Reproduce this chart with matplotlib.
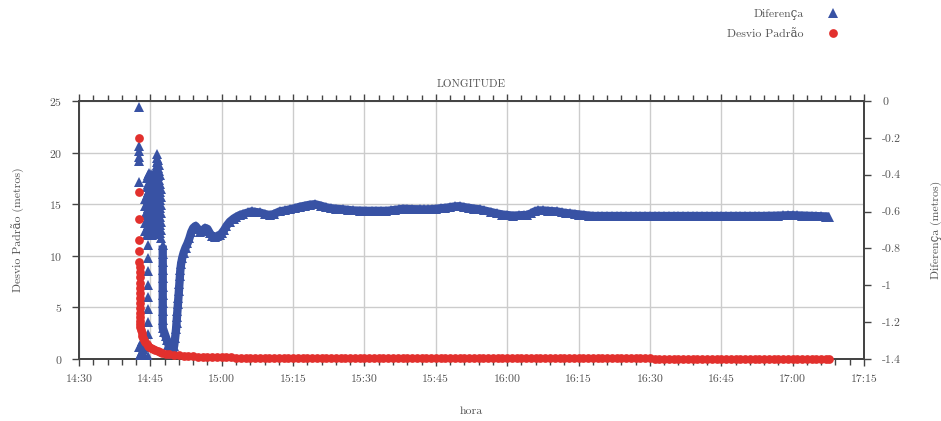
import numpy as np
import matplotlib
matplotlib.use("Agg")
import matplotlib.pyplot as plt
from matplotlib.ticker import MultipleLocator, FuncFormatter

plt.rcParams["font.family"] = ["cmr10", "DejaVu Serif"]
plt.rcParams["axes.formatter.use_mathtext"] = True
plt.rcParams["axes.unicode_minus"] = False

# ---------------------------------------------------------------------------
# Data: time in minutes after 14:00
# ---------------------------------------------------------------------------

# Diferença (metros) - initial burst of the receiver
hora_dif_inicio = [
    42.6, 42.6, 42.6, 42.6, 42.6, 42.6,
    42.7, 42.8, 42.9, 43.0, 43.1, 43.2, 43.3, 43.4, 43.5,
    43.9, 43.9, 43.9, 43.9, 43.9,
    44.2, 44.2, 44.2, 44.2, 44.2, 44.2, 44.2, 44.2,
    44.5, 44.5, 44.5, 44.5, 44.5, 44.5, 44.5, 44.5, 44.5,
    44.5, 44.5, 44.5, 44.5, 44.5, 44.5, 44.5, 44.5, 44.5,
    44.8, 44.8, 44.8, 44.8, 44.8, 44.8, 44.8, 44.8,
    45.1, 45.1, 45.1, 45.1, 45.1, 45.1, 45.1, 45.1,
    45.4, 45.4, 45.4, 45.4, 45.4, 45.4, 45.4, 45.4,
    45.7, 45.7, 45.7, 45.7, 45.7, 45.7, 45.7,
    46.0, 46.0, 46.0, 46.0, 46.0, 46.0, 46.0, 46.0, 46.0,
    46.3, 46.3, 46.3, 46.3, 46.3, 46.3, 46.3, 46.3, 46.3, 46.3,
    46.45, 46.45, 46.45,
    46.7, 46.7, 46.7, 46.7, 46.7, 46.7, 46.7, 46.7, 46.7, 46.7,
    46.9, 46.9, 46.9, 46.9, 46.9, 46.9, 46.9, 46.9, 46.9,
    47.1, 47.1, 47.1, 47.1, 47.1, 47.1, 47.1, 47.1,
    47.3, 47.3, 47.3, 47.3, 47.3, 47.3, 47.3,
]
diferenca_inicio = [
    -0.031, -0.246, -0.274, -0.302, -0.325, -0.442,
    -1.333, -1.378, -1.389, -1.366, -1.316, -1.355, -1.300, -1.372, -1.344,
    -0.706, -0.661, -0.616, -0.571, -0.532,
    -0.420, -0.465, -0.510, -0.554, -0.599, -0.644, -0.689, -0.728,
    -1.383, -1.333, -1.266, -1.198, -1.131, -1.064, -0.997, -0.924, -0.851,
    -0.784, -0.717, -0.672, -0.627, -0.582, -0.538, -0.493, -0.448, -0.403,
    -0.392, -0.437, -0.482, -0.526, -0.571, -0.616, -0.661, -0.706,
    -0.717, -0.672, -0.627, -0.582, -0.538, -0.493, -0.448, -0.398,
    -0.426, -0.470, -0.515, -0.560, -0.605, -0.650, -0.694, -0.728,
    -0.711, -0.666, -0.622, -0.577, -0.532, -0.487, -0.431,
    -0.375, -0.420, -0.465, -0.510, -0.554, -0.599, -0.644, -0.689, -0.722,
    -0.706, -0.661, -0.616, -0.571, -0.526, -0.482, -0.437, -0.392, -0.347, -0.308,
    -0.286, -0.330, -0.375,
    -0.319, -0.364, -0.409, -0.454, -0.498, -0.543, -0.588, -0.633, -0.678, -0.711,
    -0.694, -0.650, -0.605, -0.560, -0.515, -0.470, -0.426, -0.381, -0.347,
    -0.403, -0.448, -0.493, -0.538, -0.582, -0.627, -0.672, -0.717,
    -0.476, -0.521, -0.566, -0.610, -0.655, -0.700, -0.745,
]

# Diferença (metros) - converged tracking
hora_dif_rastreio = [
    47.6, 47.6, 47.6, 47.6, 47.6, 47.6, 47.6, 47.6, 47.6, 47.6, 47.6,
    47.9, 48.2, 48.5, 48.8, 49.1, 49.4, 49.6, 49.8, 50.0, 50.2,
    50.4, 50.5, 50.6, 50.7, 50.8, 50.9, 51.0, 51.1, 51.2, 51.3,
    51.45, 51.7, 52.0, 52.4, 52.8, 53.2, 53.6, 54.0, 54.5, 55.0,
    55.5, 56.0, 56.5, 57.0, 57.5, 58.0, 58.5, 59.0, 59.6, 60.0,
    60.5, 61.0, 61.7, 62.5, 63.0, 63.8, 64.5, 65.5, 66.3, 67.0,
    68.0, 69.0, 70.1, 71.0, 72.2, 73.3, 74.3, 75.3, 76.4, 77.5,
    78.5, 79.6, 80.8, 82.0, 83.0, 84.1, 85.5, 86.5, 87.6, 89.0,
    90.4, 91.5, 92.5, 93.5, 94.6, 95.5, 96.5, 97.3, 98.1, 99.0,
    100.0, 101.6, 102.5, 103.3, 104.2, 105.1, 106.0, 107.0, 108.0, 109.0,
    110.0, 111.0, 112.0, 113.0, 114.2, 115.2, 116.5, 117.8, 119.0, 120.0,
    121.2, 122.5, 123.5, 124.1, 125.0, 125.8, 126.5, 127.5, 128.5, 129.5,
    130.4, 131.5, 132.3, 133.2, 134.2, 135.2, 136.2, 137.2, 138.1, 139.0,
    140.0, 141.0, 142.0, 143.0, 144.0, 145.0, 146.0, 147.0, 148.0, 149.0,
    150.0, 151.0, 152.0, 153.0, 154.0, 155.0, 156.0, 157.0, 158.0, 159.0,
    160.0, 161.0, 162.0, 163.0, 164.0, 165.0, 166.0, 167.0, 168.0, 169.0,
    170.0, 171.0, 172.0, 173.0, 174.0, 175.0, 176.0, 177.0, 178.0, 179.0,
    180.0, 181.0, 182.0, 183.0, 184.0, 185.0, 186.0, 187.0, 187.6,
]
diferenca_rastreio = [
    -0.784, -0.829, -0.874, -0.918, -0.963, -1.008, -1.053, -1.098, -1.142, -1.187, -1.232,
    -1.254, -1.277, -1.299, -1.322, -1.344, -1.361, -1.372, -1.355, -1.327, -1.288,
    -1.238, -1.204, -1.170, -1.137, -1.103, -1.070, -1.030, -0.991, -0.952, -0.918,
    -0.885, -0.851, -0.823, -0.795, -0.773, -0.745, -0.711, -0.689, -0.678, -0.694,
    -0.711, -0.706, -0.689, -0.694, -0.717, -0.734, -0.736, -0.734, -0.728, -0.717,
    -0.700, -0.678, -0.655, -0.638, -0.630, -0.619, -0.613, -0.605, -0.599, -0.602,
    -0.605, -0.613, -0.619, -0.613, -0.599, -0.594, -0.588, -0.582, -0.574, -0.568,
    -0.563, -0.560, -0.568, -0.577, -0.582, -0.585, -0.588, -0.591, -0.594, -0.595,
    -0.596, -0.596, -0.596, -0.596, -0.596, -0.594, -0.591, -0.588, -0.585, -0.586,
    -0.587, -0.588, -0.588, -0.588, -0.587, -0.585, -0.582, -0.580, -0.576, -0.572,
    -0.571, -0.576, -0.580, -0.584, -0.588, -0.594, -0.602, -0.610, -0.616, -0.619,
    -0.622, -0.620, -0.619, -0.619, -0.610, -0.599, -0.594, -0.594, -0.596, -0.598,
    -0.599, -0.604, -0.608, -0.610, -0.613, -0.616, -0.619, -0.622, -0.624, -0.624,
    -0.624, -0.624, -0.624, -0.624, -0.624, -0.624, -0.624, -0.624, -0.624, -0.624,
    -0.624, -0.624, -0.624, -0.624, -0.624, -0.624, -0.624, -0.624, -0.624, -0.624,
    -0.624, -0.624, -0.624, -0.624, -0.624, -0.624, -0.624, -0.624, -0.624, -0.624,
    -0.624, -0.624, -0.624, -0.624, -0.624, -0.623, -0.623, -0.622, -0.621, -0.620,
    -0.620, -0.621, -0.622, -0.623, -0.624, -0.625, -0.626, -0.627, -0.627,
]

# Desvio Padrão (metros)
hora_dp = [
    42.7, 42.7, 42.7, 42.7, 42.7, 42.7,
    42.72, 42.72, 42.72, 42.72, 42.72, 42.72, 42.72,
    42.75, 42.75, 42.75, 42.75,
    42.8, 42.85, 42.9, 43.0, 43.15, 43.3, 43.5, 43.7, 43.9, 44.2,
    44.5, 44.8, 45.1, 45.5, 46.0, 46.5, 47.0, 47.5, 48.2, 49.0,
    50.0, 51.0, 52.0, 53.0, 54.0, 55.0, 56.0, 57.0, 58.0, 59.0,
    60.0, 61.0, 62.0, 63.0, 64.0, 65.0, 66.0, 67.0, 68.0, 69.0,
    70.0, 71.0, 72.0, 73.0, 74.0, 75.0, 76.0, 77.0, 78.0, 79.0,
    80.0, 81.0, 82.0, 83.0, 84.0, 85.0, 86.0, 87.0, 88.0, 89.0,
    90.0, 91.0, 92.0, 93.0, 94.0, 95.0, 96.0, 97.0, 98.0, 99.0,
    100.0, 101.0, 102.0, 103.0, 104.0, 105.0, 106.0, 107.0, 108.0, 109.0,
    110.0, 111.0, 112.0, 113.0, 114.0, 115.0, 116.0, 117.0, 118.0, 119.0,
    120.0, 121.0, 122.0, 123.0, 124.0, 125.0, 126.0, 127.0, 128.0, 129.0,
    130.0, 131.0, 132.0, 133.0, 134.0, 135.0, 136.0, 137.0, 138.0, 139.0,
    140.0, 141.0, 142.0, 143.0, 144.0, 145.0, 146.0, 147.0, 148.0, 149.0,
    150.0, 151.0, 152.0, 153.0, 154.0, 155.0, 156.0, 157.0, 158.0, 159.0,
    160.0, 161.0, 162.0, 163.0, 164.0, 165.0, 166.0, 167.0, 168.0, 169.0,
    170.0, 171.0, 172.0, 173.0, 174.0, 175.0, 176.0, 177.0, 178.0, 179.0,
    180.0, 181.0, 182.0, 183.0, 184.0, 185.0, 186.0, 187.0, 187.6,
]
desvio_padrao = [
    21.4, 16.2, 13.6, 11.5, 10.5, 9.4,
    8.9, 8.4, 7.9, 7.4, 6.9, 6.4, 5.9,
    5.4, 4.9, 4.5, 4.1,
    3.7, 3.4, 3.1, 2.8, 2.5, 2.25, 2.0, 1.8, 1.62, 1.45,
    1.3, 1.17, 1.06, 0.95, 0.84, 0.75, 0.67, 0.6, 0.52, 0.45,
    0.38, 0.34, 0.31, 0.28, 0.26, 0.24, 0.22, 0.2, 0.19, 0.18,
    0.17, 0.16, 0.15, 0.14, 0.14, 0.13, 0.12, 0.12, 0.11, 0.11,
    0.10, 0.10, 0.09, 0.09, 0.08, 0.08, 0.07, 0.07, 0.07, 0.07,
    0.07, 0.07, 0.07, 0.07, 0.07, 0.07, 0.07, 0.07, 0.07, 0.07,
    0.07, 0.06, 0.06, 0.06, 0.06, 0.06, 0.06, 0.06, 0.06, 0.06,
    0.06, 0.06, 0.06, 0.06, 0.06, 0.06, 0.06, 0.06, 0.06, 0.06,
    0.06, 0.06, 0.06, 0.06, 0.06, 0.06, 0.06, 0.06, 0.06, 0.06,
    0.06, 0.05, 0.05, 0.05, 0.05, 0.05, 0.05, 0.05, 0.05, 0.05,
    0.05, 0.05, 0.05, 0.05, 0.05, 0.05, 0.05, 0.05, 0.05, 0.05,
    0.05, 0.05, 0.05, 0.05, 0.05, 0.05, 0.05, 0.05, 0.05, 0.05,
    0.05, 0.04, 0.04, 0.04, 0.04, 0.04, 0.04, 0.04, 0.04, 0.04,
    0.04, 0.04, 0.04, 0.04, 0.04, 0.04, 0.04, 0.04, 0.04, 0.04,
    0.04, 0.04, 0.04, 0.04, 0.04, 0.04, 0.04, 0.04, 0.04, 0.04,
    0.04, 0.04, 0.04, 0.04, 0.04, 0.04, 0.04, 0.04, 0.04,
]

# ---------------------------------------------------------------------------
# Styling
# ---------------------------------------------------------------------------
AZUL = "#3852a4"
VERMELHO = "#e2302d"
TEXTO = "#555555"
EIXO = "#444444"
GRADE = "#cccccc"
FS = 8.5

fig = plt.figure(figsize=(9.41, 4.21), dpi=100)
ax = fig.add_axes([79 / 941, 1 - 359 / 421, (864 - 79) / 941, (359 - 101) / 421])
ax2 = ax.twinx()

ax.set_xlim(30, 195)
ax.set_ylim(0, 25)
ax2.set_ylim(-1.4, 0)

ax.xaxis.set_major_locator(MultipleLocator(15))
ax.xaxis.set_minor_locator(MultipleLocator(3))
ax.xaxis.set_major_formatter(
    FuncFormatter(lambda m, _: f"{14 + int(round(m)) // 60}:{int(round(m)) % 60:02d}"))
ax.yaxis.set_major_locator(MultipleLocator(5))
ax2.yaxis.set_major_locator(MultipleLocator(0.2))
ax2.yaxis.set_major_formatter(
    FuncFormatter(lambda v, _: "0" if abs(v) < 1e-9 else f"{v:.1f}".rstrip("0").rstrip(".")))

ax.grid(True, which="major", color=GRADE, linewidth=1.0)
ax.set_axisbelow(True)

for a in (ax, ax2):
    for s in a.spines.values():
        s.set_color(EIXO)
        s.set_linewidth(1.3)

ax.tick_params(axis="x", which="both", direction="out", top=True, color=EIXO,
               labelcolor=TEXTO, labelsize=FS, pad=6.5)
ax.tick_params(axis="x", which="major", length=5, width=1.0)
ax.tick_params(axis="x", which="minor", length=4, width=1.0)
ax.tick_params(axis="y", which="major", direction="out", length=5, width=1.0,
               color=EIXO, labelcolor=TEXTO, labelsize=FS, pad=7)
ax2.tick_params(axis="y", which="major", direction="out", length=5, width=1.0,
                color=EIXO, labelcolor=TEXTO, labelsize=FS, pad=8)

# Series: Diferença on the right scale, Desvio Padrão on the left scale
t_ini = np.array(hora_dif_inicio)
d_ini = np.array(diferenca_inicio)
t_ras = np.array(hora_dif_rastreio)
d_ras = np.array(diferenca_rastreio)

ax2.plot(t_ras, d_ras, color=AZUL, linewidth=6, solid_joinstyle="round",
         solid_capstyle="butt", zorder=2)
h_dif, = ax2.plot(np.concatenate([t_ini, t_ras]), np.concatenate([d_ini, d_ras]),
                  linestyle="none", marker="^", markersize=6.5, color=AZUL,
                  markeredgewidth=0, zorder=3, label="Diferença")
h_dp, = ax2.plot(hora_dp, desvio_padrao, transform=ax.transData, linestyle="none",
                 marker="o", markersize=6.3, color=VERMELHO, markeredgewidth=0,
                 clip_on=False, zorder=4, label="Desvio Padrão")

# Labels
ax.set_ylabel("Desvio Padrão (metros)", fontsize=FS, color=TEXTO)
ax.yaxis.set_label_coords(-0.069, 0.5)
ax2.set_ylabel("Diferença (metros)", fontsize=FS, color=TEXTO, rotation=90)
ax2.yaxis.set_label_coords(1.085, 0.5)
ax.set_xlabel("hora", fontsize=FS, color=TEXTO)
ax.xaxis.set_label_coords(0.5, -0.185)
fig.text(471.5 / 941, 1 - 84 / 421, "LONGITUDE", ha="center", va="center",
         fontsize=8, color=TEXTO)

fig.legend(handles=[h_dif, h_dp], loc="upper right",
           bbox_to_anchor=(839 / 941, 1 - 9 / 421), frameon=False,
           markerfirst=False, fontsize=FS, handlelength=1.0, handletextpad=2.0,
           labelspacing=0.75, borderpad=0, borderaxespad=0, labelcolor=TEXTO)

fig.savefig("out.png", dpi=100)
